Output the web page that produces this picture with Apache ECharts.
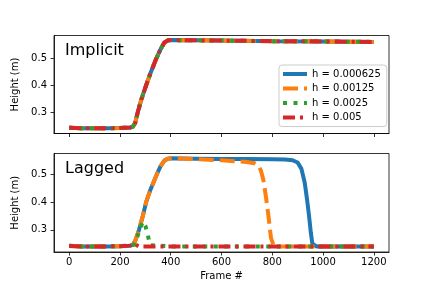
<!DOCTYPE html>
<html><head><meta charset="utf-8">
<script src="https://cdn.jsdelivr.net/npm/echarts@6/dist/echarts.min.js"></script>
<style>html,body{margin:0;padding:0;background:#fff}#c{width:432px;height:288px}</style>
</head><body><div id="c"></div>
<script>
// ---- data ----
const seriesNames = ['h = 0.000625', 'h = 0.00125', 'h = 0.0025', 'h = 0.005'];
const xTicks = [0, 200, 400, 600, 800, 1000, 1200];
const yTicks = [0.3, 0.4, 0.5];

// Implicit (all four step sizes nearly identical)
const implicitFrames = [0, 50, 100, 150, 200, 240, 250, 260, 270, 285, 303, 320, 343, 360, 375, 390, 400, 600, 800, 1000, 1200];
const implicitH = [0.242, 0.240, 0.240, 0.240, 0.241, 0.243, 0.245, 0.260, 0.300, 0.350, 0.400, 0.445, 0.500, 0.535, 0.560, 0.568, 0.569, 0.567, 0.565, 0.564, 0.562];

// Lagged
const lagBlueFrames = [0, 50, 100, 150, 200, 240, 250, 260, 275, 290, 303, 320, 345, 360, 375, 390, 400, 500, 600, 700, 800, 850, 880, 900, 915, 928, 937, 945, 952, 958, 965, 975, 1000, 1100, 1200];
const lagBlueH = [0.243, 0.240, 0.240, 0.240, 0.241, 0.243, 0.246, 0.260, 0.300, 0.350, 0.400, 0.445, 0.500, 0.530, 0.550, 0.557, 0.558, 0.557, 0.556, 0.556, 0.555, 0.554, 0.551, 0.543, 0.520, 0.470, 0.410, 0.350, 0.290, 0.250, 0.246, 0.240, 0.240, 0.240, 0.240];

const lagOrangeFrames = [0, 50, 100, 150, 200, 240, 250, 260, 275, 290, 303, 320, 345, 360, 375, 390, 400, 500, 600, 700, 730, 745, 755, 765, 775, 785, 795, 805, 820, 1000, 1200];
const lagOrangeH = [0.242, 0.240, 0.240, 0.240, 0.241, 0.243, 0.246, 0.260, 0.300, 0.350, 0.400, 0.445, 0.500, 0.530, 0.550, 0.557, 0.558, 0.555, 0.551, 0.545, 0.540, 0.532, 0.515, 0.480, 0.420, 0.350, 0.270, 0.245, 0.240, 0.240, 0.240];

const lagGreenFrames = [0, 50, 100, 150, 200, 240, 255, 265, 277, 290, 300, 310, 318, 325, 400, 600, 800, 1000, 1200];
const lagGreenH = [0.243, 0.240, 0.240, 0.240, 0.241, 0.243, 0.246, 0.265, 0.300, 0.330, 0.315, 0.280, 0.245, 0.240, 0.240, 0.240, 0.240, 0.240, 0.240];

const lagRedFrames = [0, 50, 100, 150, 200, 240, 250, 258, 265, 275, 400, 600, 800, 1000, 1200];
const lagRedH = [0.242, 0.240, 0.240, 0.240, 0.241, 0.243, 0.246, 0.248, 0.242, 0.240, 0.240, 0.240, 0.240, 0.240, 0.240];

// ---- styling ----
const colors = ['#1f77b4', '#ff7f0e', '#2ca02c', '#d62728'];
const dashes = ['solid', [15, 6], [4, 6.5], [12, 5, 3, 5]];
const zip = (xs, ys) => xs.map((x, i) => [x, ys[i]]);

const implicitData = [zip(implicitFrames, implicitH), zip(implicitFrames, implicitH), zip(implicitFrames, implicitH), zip(implicitFrames, implicitH)];
const laggedData = [zip(lagBlueFrames, lagBlueH), zip(lagOrangeFrames, lagOrangeH), zip(lagGreenFrames, lagGreenH), zip(lagRedFrames, lagRedH)];

const FONT = 'DejaVu Sans';
const tickStyle = { show: true, inside: false, length: 3.5, lineStyle: { color: '#000', width: 0.8 } };

function xAxis(gridIndex, showLabels) {
  return {
    type: 'value', gridIndex, min: -60, max: 1260,
    axisLine: { show: true, onZero: false, lineStyle: { color: '#000', width: 0.8 } },
    axisTick: Object.assign({ customValues: xTicks }, tickStyle),
    axisLabel: { show: showLabels, customValues: xTicks, margin: 5, color: '#000', fontFamily: FONT, fontSize: 10, formatter: v => String(v) },
    splitLine: { show: false },
    name: showLabels ? 'Frame #' : '', nameLocation: 'middle', nameGap: 19,
    nameTextStyle: { color: '#000', fontFamily: FONT, fontSize: 10 }
  };
}
function yAxis(gridIndex, min, max) {
  return {
    type: 'value', gridIndex, min, max,
    axisLine: { show: true, onZero: false, lineStyle: { color: '#000', width: 0.8 } },
    axisTick: Object.assign({ customValues: yTicks }, tickStyle),
    axisLabel: { customValues: yTicks, margin: 7, color: '#000', fontFamily: FONT, fontSize: 10, formatter: v => v.toFixed(1) },
    splitLine: { show: false },
    name: 'Height (m)', nameLocation: 'middle', nameGap: 28, nameRotate: 90,
    nameTextStyle: { color: '#000', fontFamily: FONT, fontSize: 10 }
  };
}

const series = [];
[implicitData, laggedData].forEach((set, gi) => {
  set.forEach((d, i) => {
    series.push({
      type: 'line', name: seriesNames[i], xAxisIndex: gi, yAxisIndex: gi,
      data: d, showSymbol: false, symbol: 'none', animation: false,
      lineStyle: { color: colors[i], width: 4, type: dashes[i] },
      itemStyle: { color: colors[i] },
      z: 2 + i
    });
  });
});

const chart = echarts.init(document.getElementById('c'), null, { renderer: 'canvas' });
chart.setOption({
  animation: false,
  backgroundColor: '#fff',
  grid: [
    { left: 54, top: 35.5, width: 335, height: 98, show: true, borderColor: '#000', borderWidth: 0.8, backgroundColor: 'transparent' },
    { left: 54, top: 153.5, width: 335, height: 98.5, show: true, borderColor: '#000', borderWidth: 0.8, backgroundColor: 'transparent' }
  ],
  xAxis: [xAxis(0, false), xAxis(1, true)],
  yAxis: [yAxis(0, 0.2205, 0.586), yAxis(1, 0.2200, 0.5755)],
  legend: {
    data: seriesNames, orient: 'vertical', left: 279, top: 65,
    itemWidth: 24, itemHeight: 4, itemGap: 2.5,
    padding: [3, 6, 3, 2],
    backgroundColor: 'rgba(255,255,255,0.8)', borderColor: '#cccccc', borderWidth: 1, borderRadius: 3,
    itemStyle: { opacity: 0 },
    lineStyle: { width: 4 },
    textStyle: { color: '#000', fontFamily: FONT, fontSize: 10, lineHeight: 12 },
    selectedMode: false
  },
  graphic: [
    { type: 'text', left: 65, top: 42.5, style: { text: 'Implicit', font: '16px "DejaVu Sans"', fill: '#000' }, z: 100 },
    { type: 'text', left: 65, top: 160.5, style: { text: 'Lagged', font: '16px "DejaVu Sans"', fill: '#000' }, z: 100 }
  ],
  series
});
</script></body></html>
